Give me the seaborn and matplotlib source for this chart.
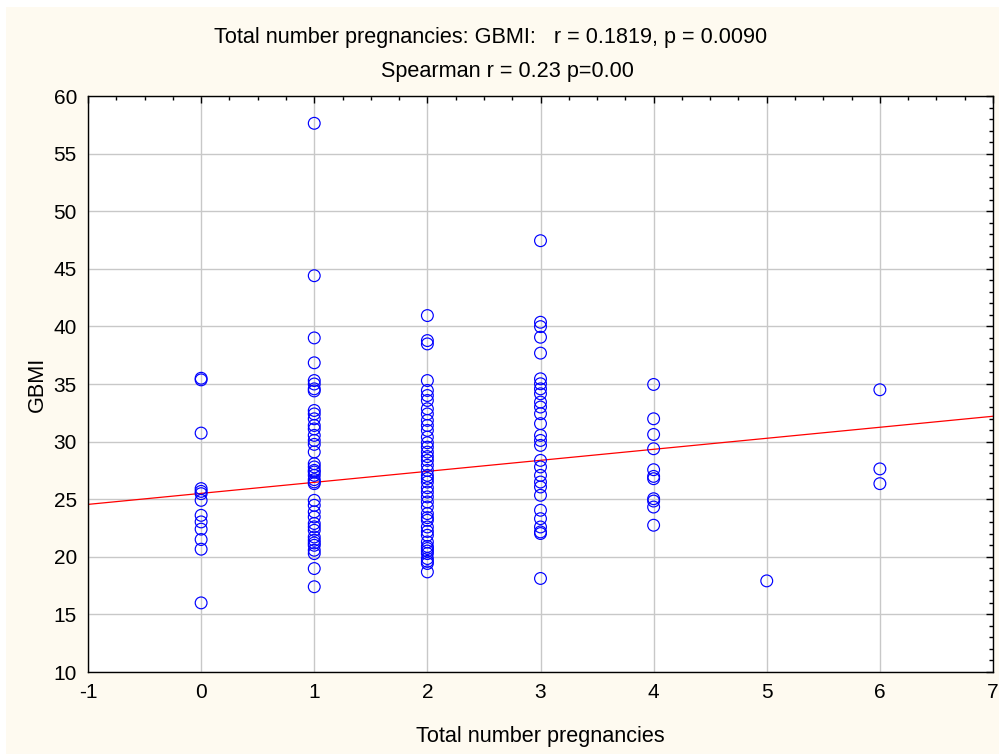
import numpy as np
import pandas as pd
import matplotlib
matplotlib.use("Agg")
import matplotlib.pyplot as plt
import seaborn as sns
from matplotlib.ticker import MultipleLocator
from matplotlib.patches import Rectangle

# ---- data ----
preg_0 = [35.5, 35.36, 30.74, 25.92, 25.68, 25.48, 24.9, 23.6, 23.03, 22.4, 21.5, 20.66, 16.0]
preg_1 = [57.63, 44.4, 39.0, 36.84, 35.3, 35.0, 34.58, 34.4, 32.7, 32.4, 31.98, 31.4, 31.1,
          30.54, 30.1, 29.76, 29.1, 28.08, 27.8, 27.5, 27.36, 27.07, 26.7, 26.5, 26.35,
          24.9, 24.47, 23.9, 23.46, 22.89, 22.6, 22.3, 21.72, 21.44, 21.2, 21.0, 20.57,
          20.28, 18.98, 17.4]
preg_2 = [40.94, 38.77, 38.48, 35.3, 34.44, 34.0, 33.57, 32.85, 32.4, 31.84, 31.4, 30.97,
          30.39, 29.9, 29.52, 29.09, 28.7, 28.37, 27.94, 27.5, 27.07, 26.8, 26.49, 26.0,
          25.62, 25.2, 24.76, 24.32, 23.75, 23.4, 23.17, 22.59, 22.2, 21.87, 21.29, 20.9,
          20.72, 20.5, 20.28, 19.85, 19.6, 19.42, 18.69]
preg_3 = [47.44, 40.36, 39.98, 39.06, 37.68, 35.45, 35.02, 34.58, 34.15, 33.43, 33.0, 32.42,
          31.56, 30.54, 30.1, 29.67, 28.37, 27.8, 27.07, 26.49, 26.06, 25.34, 24.04, 23.31,
          22.59, 22.16, 22.02, 18.12]
preg_4 = [34.96, 31.98, 30.62, 29.38, 27.56, 26.98, 26.78, 25.04, 24.84, 24.32, 22.74]
preg_5 = [17.91]
preg_6 = [34.5, 27.63, 26.35]

groups = {0: preg_0, 1: preg_1, 2: preg_2, 3: preg_3, 4: preg_4, 5: preg_5, 6: preg_6}
df = pd.DataFrame([(k, v) for k, vals in groups.items() for v in vals],
                  columns=["pregnancies", "gbmi"])

# regression line
fit_x = [-1, 7]
fit_y = [24.55, 32.2]

title1 = "Total number pregnancies: GBMI:   r = 0.1819, p = 0.0090"
title2 = "Spearman r = 0.23 p=0.00"
x_label = "Total number pregnancies"
y_label = "GBMI"
x_ticks = [-1, 0, 1, 2, 3, 4, 5, 6, 7]
y_ticks = [10, 15, 20, 25, 30, 35, 40, 45, 50, 55, 60]

# ---- drawing ----
sns.set_theme(style="white")
plt.rcParams["font.family"] = ["Liberation Sans", "DejaVu Sans"]
plt.rcParams["axes.unicode_minus"] = False
plt.rcParams["text.color"] = "black"
plt.rcParams["axes.labelcolor"] = "black"
plt.rcParams["xtick.color"] = "black"
plt.rcParams["ytick.color"] = "black"

FS = 15
FS_T = 15.6
W, H = 999, 754
fig = plt.figure(figsize=(W / 100, H / 100), dpi=100, facecolor="white")
fig.patches.append(Rectangle((6 / W, 0), 1 - 6 / W, 1 - 7 / H, transform=fig.transFigure,
                             facecolor="#FEFAF0", edgecolor="none", zorder=-10))
ax = fig.add_axes([88 / W, 1 - 672 / H, (993 - 88) / W, (672 - 96) / H])
ax.set_facecolor("white")

ax.set_xlim(-1, 7)
ax.set_ylim(10, 60)
ax.set_xticks(x_ticks)
ax.set_yticks(y_ticks)
ax.xaxis.set_minor_locator(MultipleLocator(0.25))
ax.yaxis.set_minor_locator(MultipleLocator(1))
ax.grid(True, which="major", color="#C8C8C8", linewidth=1.0)
ax.set_axisbelow(True)

sns.lineplot(x=fit_x, y=fit_y, ax=ax, color="#FF0000", linewidth=0.9, zorder=2)
sns.scatterplot(data=df, x="pregnancies", y="gbmi", ax=ax, marker="o", s=72,
                facecolor="none", edgecolor="#0000FF", linewidth=0.85, zorder=3)

for sp in ax.spines.values():
    sp.set_color("black")
    sp.set_linewidth(1.0)
    sp.set_visible(True)

ax.tick_params(which="both", direction="in", top=True, right=True, colors="black",
               labelsize=FS)
ax.tick_params(which="major", length=5, width=1, pad=8)
ax.tick_params(which="minor", length=3, width=1)
ax.tick_params(axis="y", which="major", pad=8)

ax.set_xlabel(x_label, fontsize=FS_T, labelpad=17)
ax.set_ylabel(y_label, fontsize=FS_T, labelpad=4)

fig.text(490.5 / W, 1 - 43.5 / H, title1, ha="center", va="baseline", fontsize=FS_T)
fig.text(507.5 / W, 1 - 77.5 / H, title2, ha="center", va="baseline", fontsize=FS_T)

fig.savefig("out.png", dpi=100, facecolor=fig.get_facecolor())
